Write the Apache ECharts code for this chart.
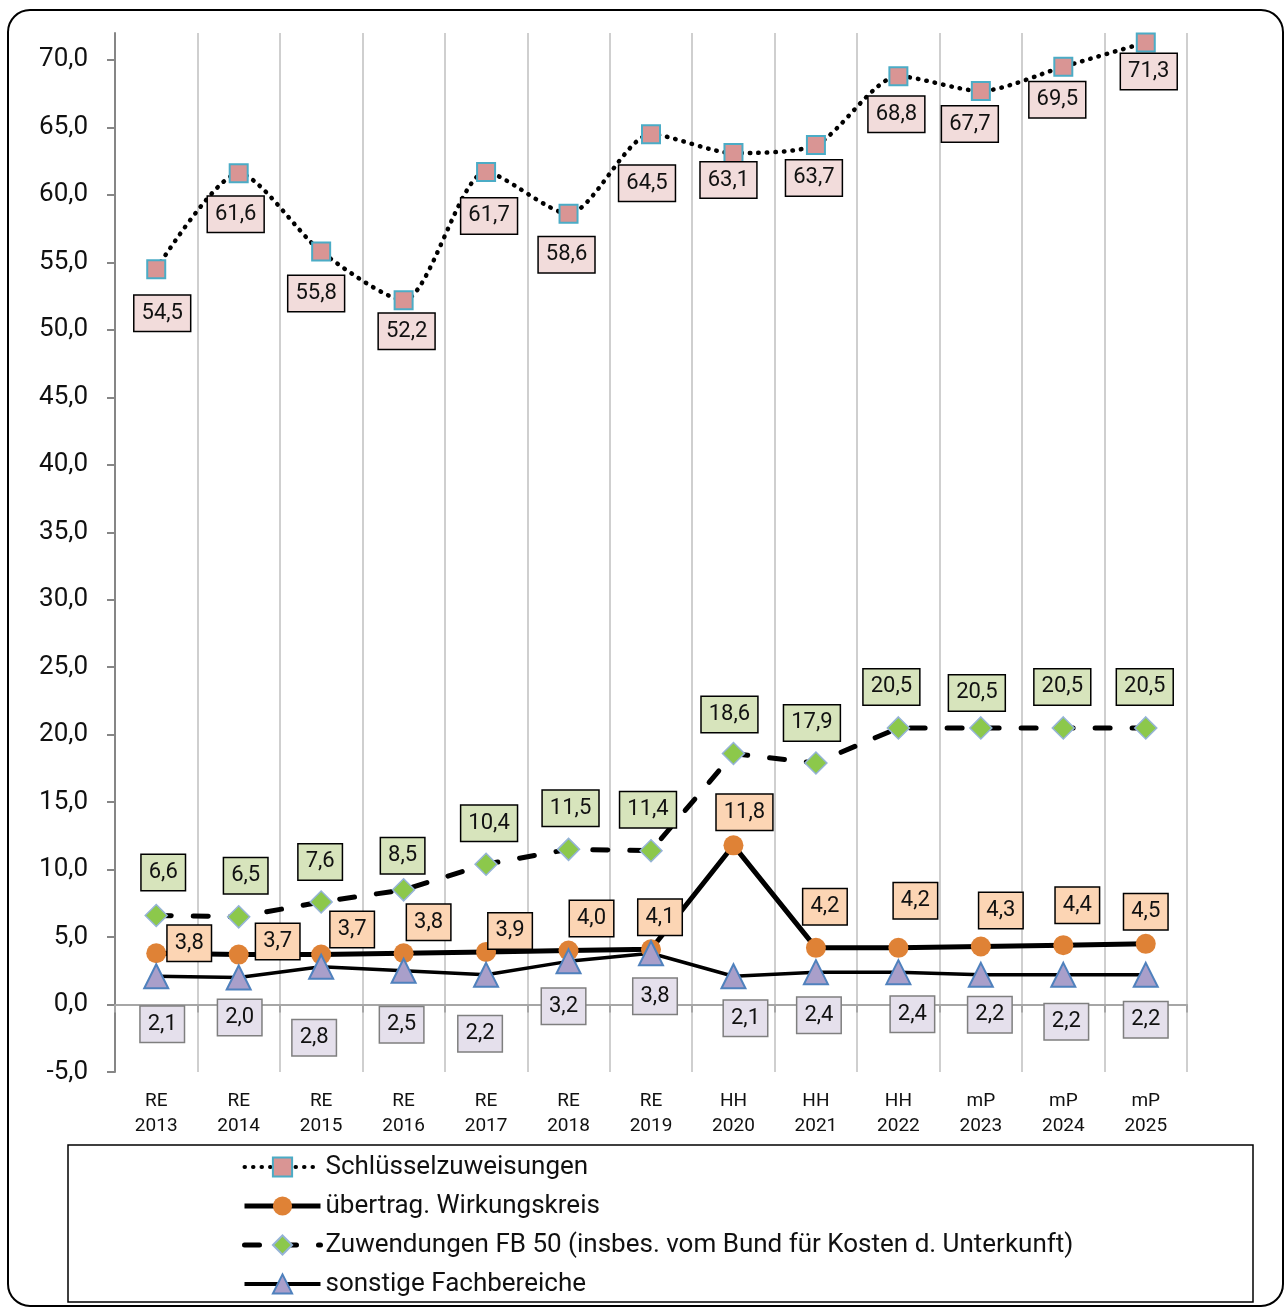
<!DOCTYPE html>
<html>
<head>
<meta charset="utf-8">
<script src="https://cdn.jsdelivr.net/npm/echarts@6/dist/echarts.min.js"></script>
<style>
  html, body { margin: 0; padding: 0; background: #fff; }
  #chart { width: 1287px; height: 1310px; }
</style>
</head>
<body>
<div id="chart"></div>
<script>
// Kategorien (Jahre)
const categories = ['RE\n2013', 'RE\n2014', 'RE\n2015', 'RE\n2016', 'RE\n2017', 'RE\n2018', 'RE\n2019',
  'HH\n2020', 'HH\n2021', 'HH\n2022', 'mP\n2023', 'mP\n2024', 'mP\n2025'];

const yTicks = [-5, 0, 5, 10, 15, 20, 25, 30, 35, 40, 45, 50, 55, 60, 65, 70];

// Werte je Reihe
const schluessel = [54.5, 61.6, 55.8, 52.2, 61.7, 58.6, 64.5, 63.1, 63.7, 68.8, 67.7, 69.5, 71.3];
const uebertrag = [3.8, 3.7, 3.7, 3.8, 3.9, 4.0, 4.1, 11.8, 4.2, 4.2, 4.3, 4.4, 4.5];
const zuwendungen = [6.6, 6.5, 7.6, 8.5, 10.4, 11.5, 11.4, 18.6, 17.9, 20.5, 20.5, 20.5, 20.5];
const sonstige = [2.1, 2.0, 2.8, 2.5, 2.2, 3.2, 3.8, 2.1, 2.4, 2.4, 2.2, 2.2, 2.2];

// Lage der Datenbeschriftungen (Versatz zum Punkt, px)
const schluesselLabelPos = [[6, 44], [-3, 41], [-5, 42], [3, 31], [3, 44], [-2, 41], [-4, 49],
  [-5, 27], [-2, 33], [-2, 38], [-11, 33], [-6, 33], [3, 29]];
const uebertragLabelPos = [[33, -10], [39, -13], [31, -25], [25, -31], [24, -21], [23, -32], [9, -32],
  [11, -33], [9, -41], [17, -47], [20, -36], [14, -40], [0, -32]];
const zuwendungenLabelPos = [[7, -43], [7, -41], [-1, -40], [-1, -34], [3, -41], [2, -41], [-3, -41],
  [-4, -39], [-4, -40], [-7, -41], [-4, -35], [-1, -41], [-1, -41]];
const sonstigeLabelPos = [[6, 48], [1, 40], [-7, 71], [-2, 54], [-6, 59], [-5, 45], [4, 43],
  [12, 42], [3, 43], [14, 42], [9, 40], [3, 47], [0, 45]];

const FONT = 'Roboto';
const fmt = v => v.toFixed(1).replace('.', ',');

function withLabels (values, offsets) {
  return values.map((v, i) => ({ value: v, label: { offset: offsets[i] } }));
}

function boxLabel (bg, border) {
  return {
    show: true,
    position: 'inside',
    formatter: p => fmt(p.value),
    fontFamily: FONT,
    fontSize: 22,
    lineHeight: 24,
    color: '#111',
    backgroundColor: bg,
    borderColor: border,
    borderWidth: 1.5,
    padding: [6, 7, 5, 7]
  };
}

const myChart = echarts.init(document.getElementById('chart'));

myChart.setOption({
  animation: false,
  backgroundColor: '#fff',
  graphic: [
    {
      type: 'rect',
      shape: { x: 8, y: 10, width: 1275, height: 1296, r: 22 },
      style: { fill: null, stroke: '#000', lineWidth: 2 },
      silent: true
    },
    {
      type: 'rect',
      shape: { x: 68, y: 1145, width: 1185, height: 157 },
      style: { fill: null, stroke: '#000', lineWidth: 1.5 },
      silent: true
    }
  ],
  grid: {
    left: 115,
    right: 100,
    top: 33,
    bottom: 238
  },
  legend: {
    orient: 'vertical',
    left: 237,
    top: 1149,
    itemWidth: 76,
    itemHeight: 24,
    itemGap: 13,
    textStyle: {
      fontFamily: FONT,
      fontSize: 26,
      lineHeight: 26,
      color: '#111'
    },
    data: [
      { name: 'Schlüsselzuweisungen', lineStyle: { width: 4 } },
      { name: 'übertrag. Wirkungskreis', lineStyle: { width: 5 } },
      { name: 'Zuwendungen FB 50 (insbes. vom Bund für Kosten d. Unterkunft)', lineStyle: { width: 5 } },
      { name: 'sonstige Fachbereiche', lineStyle: { width: 4 } }
    ]
  },
  xAxis: [
    {
      type: 'category',
      position: 'bottom',
      data: categories,
      boundaryGap: true,
      axisLine: { show: false, onZero: false },
      axisTick: { show: false },
      axisLabel: {
        fontFamily: FONT,
        fontSize: 19,
        lineHeight: 25,
        color: '#111',
        margin: 17,
        interval: 0
      },
      splitLine: {
        show: true,
        lineStyle: { color: '#bfbfbf', width: 1.5 }
      }
    },
    {
      // Nulllinie mit Teilstrichen
      type: 'category',
      position: 'top',
      data: categories,
      boundaryGap: true,
      axisLine: { show: true, onZero: true, lineStyle: { color: '#a6a6a6', width: 2 } },
      axisTick: { show: true, inside: true, length: 8, lineStyle: { color: '#a6a6a6', width: 2 } },
      axisLabel: { show: false },
      splitLine: { show: false }
    }
  ],
  yAxis: {
    type: 'value',
    min: -5,
    max: 72,
    interval: 5,
    axisLine: { show: true, lineStyle: { color: '#868686', width: 2 } },
    axisTick: { show: true, length: 8, customValues: yTicks, lineStyle: { color: '#868686', width: 2 } },
    axisLabel: {
      customValues: yTicks,
      formatter: v => fmt(v),
      fontFamily: FONT,
      fontSize: 26,
      color: '#111',
      margin: 27
    },
    splitLine: { show: false }
  },
  series: [
    {
      name: 'Schlüsselzuweisungen',
      type: 'line',
      smooth: 0.25,
      symbol: 'rect',
      symbolSize: 18,
      itemStyle: { color: '#d99594', borderColor: '#4bacc6', borderWidth: 2 },
      lineStyle: { color: '#000', width: 4.5, type: [0.5, 8], cap: 'round' },
      label: boxLabel('#f2dcdb', '#000'),
      data: withLabels(schluessel, schluesselLabelPos)
    },
    {
      name: 'übertrag. Wirkungskreis',
      type: 'line',
      symbol: 'circle',
      symbolSize: 20,
      itemStyle: { color: '#df8236', borderWidth: 0 },
      lineStyle: { color: '#000', width: 5 },
      label: boxLabel('#fcd5b4', '#000'),
      data: withLabels(uebertrag, uebertragLabelPos)
    },
    {
      name: 'Zuwendungen FB 50 (insbes. vom Bund für Kosten d. Unterkunft)',
      type: 'line',
      symbol: 'diamond',
      symbolSize: 22,
      itemStyle: { color: '#8cc84b', borderColor: '#95b3d7', borderWidth: 1.5 },
      lineStyle: { color: '#000', width: 5, type: [15, 22], cap: 'round' },
      label: boxLabel('#d7e4bc', '#000'),
      data: withLabels(zuwendungen, zuwendungenLabelPos)
    },
    {
      name: 'sonstige Fachbereiche',
      type: 'line',
      symbol: 'triangle',
      symbolSize: 24,
      itemStyle: { color: '#a99fca', borderColor: '#4f81bd', borderWidth: 2 },
      lineStyle: { color: '#000', width: 3.5 },
      label: boxLabel('#e5e0ec', '#7f7f7f'),
      data: withLabels(sonstige, sonstigeLabelPos)
    }
  ]
});

window.addEventListener('resize', () => {
  myChart.resize();
});
</script>
</body>
</html>
